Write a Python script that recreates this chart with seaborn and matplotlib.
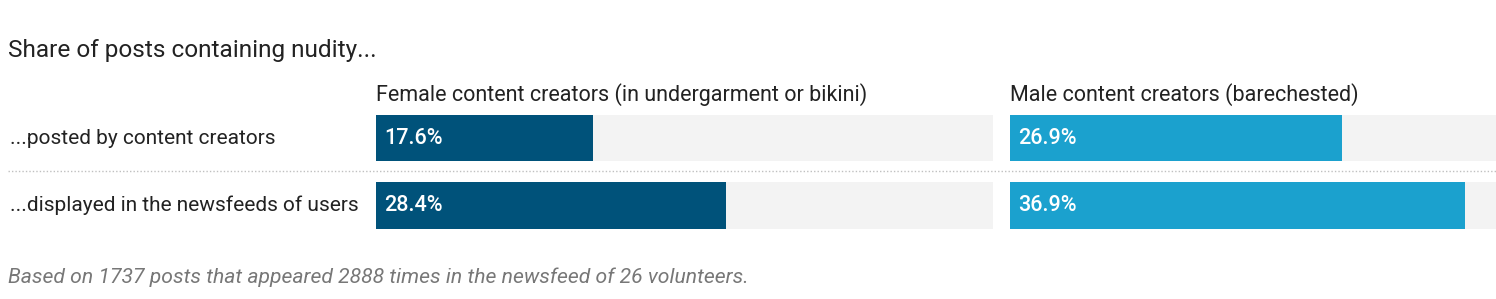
import matplotlib
matplotlib.use("Agg")
import matplotlib.pyplot as plt
import matplotlib.transforms as mtransforms
from matplotlib.lines import Line2D
import seaborn as sns
import pandas as pd

# ---- data ----
categories = ["...posted by content creators", "...displayed in the newsfeeds of users"]
female_values = [17.6, 28.4]
male_values = [26.9, 36.9]
panel_titles = ["Female content creators (in undergarment or bikini)", "Male content creators (barechested)"]
title = "Share of posts containing nudity..."
footnote = "Based on 1737 posts that appeared 2888 times in the newsfeed of 26 volunteers."
scale_max = 50

sns.set_theme(style="white")
plt.rcParams["font.family"] = ["Roboto", "DejaVu Sans"]

W, H = 1496, 299
fig = plt.figure(figsize=(W / 100, H / 100), dpi=100)

top_px, bot_px = 115, 228.5
bar_h = 0.687
pad = (1 - bar_h) / 2
ax_bottom = 1 - bot_px / H
ax_height = (bot_px - top_px) / H

panels = [
    (376, 993, female_values, "#00527A"),
    (1010, 1496, male_values, "#1BA1CE"),
]
px_per_unit = (993 - 376) / scale_max

for (x0, x1, vals, color), ptitle in zip(panels, panel_titles):
    ax = fig.add_axes([x0 / W, ax_bottom, (x1 - x0) / W, ax_height])
    xmax = (x1 - x0) / px_per_unit
    df = pd.DataFrame({"cat": categories, "val": vals, "bg": [xmax] * len(categories)})
    sns.barplot(data=df, y="cat", x="bg", order=categories, color="#F3F3F3",
                width=bar_h, ax=ax, saturation=1)
    sns.barplot(data=df, y="cat", x="val", order=categories, color=color,
                width=bar_h, ax=ax, saturation=1)
    for p in ax.patches:
        p.set_edgecolor("none")
    ax.set_xlim(0, xmax)
    ax.set_ylim(len(categories) - 0.5 - pad, -0.5 + pad)
    ax.axis("off")
    for i, v in enumerate(vals):
        ax.annotate(f"{v}%", xy=(0, i), xytext=(6, 0), textcoords="offset points",
                    ha="left", va="center", color="white", fontsize=15.5,
                    fontweight="medium")
    fig.text(x0 / W, 1 - 95 / H, ptitle, ha="left", va="center", fontsize=15.5,
             color="#222222")
    if x0 == 376:
        trans = mtransforms.blended_transform_factory(fig.transFigure, ax.transData)
        for i, c in enumerate(categories):
            ax.text(10 / W, i, c, transform=trans, ha="left", va="center",
                    fontsize=15, color="#222222", clip_on=False)

fig.add_artist(Line2D([8 / W, 1.0], [1 - 171 / H, 1 - 171 / H], transform=fig.transFigure,
                      color="#C0C0C0", linestyle=(0, (1, 1.5)), linewidth=1))

fig.text(8 / W, 1 - 50 / H, title, ha="left", va="center", fontsize=17.6, color="#222222")
fig.text(8 / W, 1 - 277 / H, footnote, ha="left", va="center", fontsize=15.2,
         color="#777777", style="italic")

fig.savefig("out.png", dpi=100, facecolor="white")
